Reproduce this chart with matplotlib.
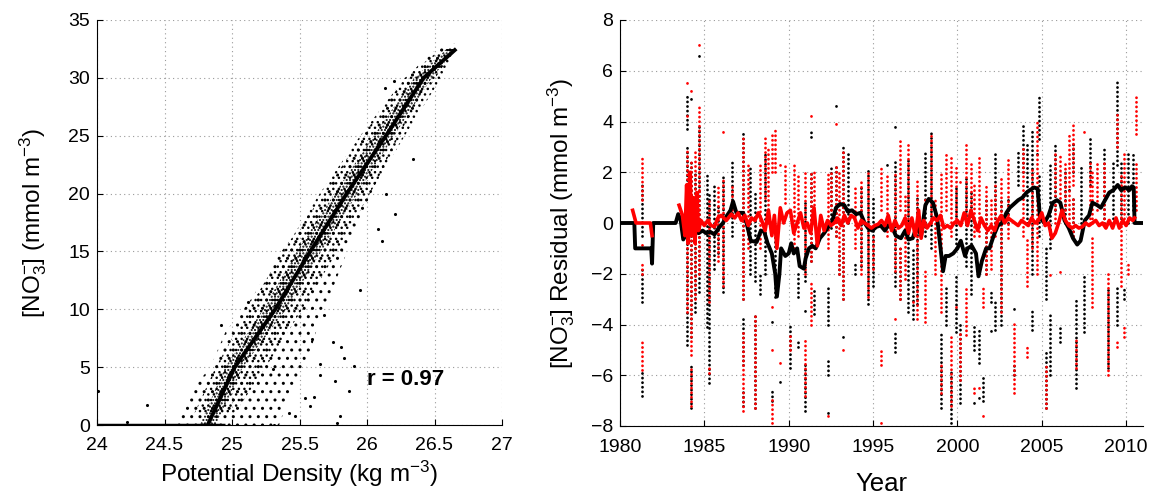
import numpy as np
import matplotlib
matplotlib.use("Agg")
import matplotlib.pyplot as plt

plt.rcParams["font.family"] = ["Liberation Sans", "DejaVu Sans"]
plt.rcParams["mathtext.fontset"] = "custom"
plt.rcParams["mathtext.rm"] = "Liberation Sans"
plt.rcParams["mathtext.it"] = "Liberation Sans:italic"
plt.rcParams["mathtext.bf"] = "Liberation Sans:bold"
plt.rcParams["mathtext.default"] = "rm"
plt.rcParams["hatch.linewidth"] = 1.0

# ---- left panel: nitrate vs potential density ----
FIT_X = [24.82, 25.02, 25.32, 25.58, 25.85, 26.14, 26.42, 26.65]
FIT_Y = [0.0, 5.0, 10.0, 15.0, 20.0, 25.0, 30.0, 32.4]

# envelope of the sparse part of the cloud (x at given nitrate level)
CLOUD_Y = [0, 1, 3, 5, 8, 11, 14, 17, 20, 23, 26, 29, 32, 33]
CLOUD_LEFT = [24.55, 24.62, 24.70, 24.84, 24.95, 25.15, 25.30, 25.50, 25.68, 25.85, 26.03, 26.22, 26.45, 26.62]
CLOUD_RIGHT = [25.35, 25.38, 25.45, 25.55, 25.62, 25.72, 25.82, 25.92, 26.03, 26.15, 26.28, 26.45, 26.62, 26.66]

# envelope of the moderately dense part
MID_Y = [1, 5, 10, 15, 20, 25, 30, 32.5]
MID_LEFT = [24.72, 24.88, 25.12, 25.38, 25.65, 25.95, 26.28, 26.55]
MID_RIGHT = [25.02, 25.25, 25.52, 25.78, 26.02, 26.28, 26.55, 26.66]

# envelope of the dense core
CORE_Y = [0, 5, 10, 15, 20, 25, 30, 32.5]
CORE_LEFT = [24.76, 24.95, 25.23, 25.48, 25.76, 26.05, 26.35, 26.59]
CORE_RIGHT = [24.88, 25.08, 25.40, 25.66, 25.93, 26.20, 26.48, 26.66]

# zero-nitrate samples along the bottom
ZERO_X = [24.0, 24.95]
ZERO_Y = [0.0, 0.0]

# isolated samples outside the cloud
OUT_X = [24.01, 24.37, 24.22, 24.92, 25.12, 26.20, 26.13, 26.34, 26.21, 26.14, 26.08, 26.11,
         25.95, 25.75, 25.81, 25.83, 25.90, 25.87, 25.76, 25.65, 25.65, 25.58, 25.61, 25.80,
         25.78, 25.47, 25.42, 25.54, 25.68, 25.59, 25.31, 25.30]
OUT_Y = [2.9, 1.7, 0.3, 8.6, 10.6, 29.7, 29.1, 23.0, 18.2, 20.0, 16.9, 15.9,
         11.7, 7.2, 6.7, 5.8, 5.1, 2.9, 3.8, 5.3, 4.3, 1.6, 2.4, 0.75,
         0.2, 0.8, 1.0, 2.3, 9.5, 7.4, 0.03, 4.8]

R_TEXT = "r = 0.97"

# ---- right panel: residual time series ----
# vertical columns of samples: (year, low, high)
BLACK_STREAKS = [
    (1981.3, -0.5, 1.5), (1981.3, -3.1, -1.7), (1981.3, -6.8, -5.8),
    (1983.95, -4.8, 3.0), (1983.95, 3.7, 5.1), (1984.2, -4.5, 2.5), (1984.2, -7.3, -5.6),
    (1984.2, 4.9, 5.0), (1984.45, -3.5, 2.0), (1984.7, -2.7, 3.8), (1984.7, 6.6, 6.7),
    (1985.15, -4.1, 2.0), (1985.3, -6.3, 1.2), (1985.55, -1.8, 1.5), (1985.8, -1.2, 0.8),
    (1986.1, -2.7, 1.8), (1986.65, -0.5, 2.5), (1987.3, -3.0, 3.6), (1987.3, -7.2, -6.5),
    (1987.3, -5.6, -3.8), (1987.7, -2.0, 2.3), (1988.0, -2.3, 1.2), (1988.0, -7.3, -3.5),
    (1988.3, -2.8, -2.0), (1988.6, -2.0, 2.7), (1989.0, -7.0, -6.6), (1989.0, -3.9, -3.8),
    (1989.2, -2.9, -0.5), (1989.5, -6.25, -6.15), (1990.1, -5.7, -4.0), (1990.55, -2.9, -2.0),
    (1990.55, -4.9, -4.7), (1990.95, -2.3, 0.9), (1990.95, -3.45, -3.35), (1990.95, -7.4, -5.5),
    (1991.3, 3.4, 3.6), (1991.3, -1.5, 2.0), (1991.5, -3.6, -2.6), (1992.3, -4.0, -2.5),
    (1992.3, -6.0, -5.3), (1992.3, -7.5, -7.4), (1992.5, -0.2, 2.3), (1992.8, 4.6, 4.7),
    (1992.8, -0.5, 2.3), (1993.0, -2.0, -1.0), (1993.2, -3.0, 3.0), (1993.2, -4.5, -4.4),
    (1993.5, 0.0, 2.7), (1993.9, -2.0, -1.5), (1994.3, -1.7, 1.5), (1994.7, -3.2, 2.2),
    (1995.0, -2.5, 1.0), (1995.8, 2.3, 2.4), (1996.3, -2.5, 2.5), (1996.3, 3.8, 3.9),
    (1996.3, -5.1, -4.3), (1996.6, -3.0, -1.0), (1997.1, -3.5, 2.6), (1997.35, -3.8, -1.0),
    (1997.6, -3.2, 1.0), (1998.1, -0.5, 2.9), (1998.45, -1.0, 3.6), (1999.0, -7.3, -4.3),
    (1999.3, -4.0, -2.5), (1999.6, -7.9, -5.7), (1999.9, -4.3, -2.0), (1999.9, -1.0, 1.5),
    (2000.15, -7.1, -3.9), (2000.5, -1.7, 1.8), (2000.8, -2.8, 1.2), (2001.0, -5.0, -4.1),
    (2001.0, -7.1, -7.0), (2001.25, -5.5, -4.2), (2001.25, -6.9, -6.8), (2001.5, -7.0, -6.0),
    (2001.7, -2.0, 1.0), (2002.0, -3.1, -2.6), (2002.0, -4.25, -4.15), (2002.2, 0.0, 2.8),
    (2002.2, -4.2, -3.0), (2002.6, -4.0, 1.0), (2003.0, 0.0, 1.0), (2003.35, -3.4, -3.3),
    (2003.35, -6.0, -5.5), (2003.6, 1.5, 2.9), (2003.9, 2.0, 4.0), (2004.15, 0.0, 3.2),
    (2004.4, -2.0, 3.7), (2004.4, -4.2, -3.4), (2004.7, 2.7, 2.8), (2004.85, 3.3, 5.0),
    (2004.85, -0.5, 2.0), (2005.25, -7.3, -5.0), (2005.25, -3.0, -1.0), (2005.5, -1.0, 2.3),
    (2005.5, -6.0, -3.5), (2005.8, 0.5, 3.2), (2006.1, -4.7, -4.0), (2006.35, 0.0, 2.1),
    (2006.6, 1.3, 1.4), (2006.85, 2.0, 3.1), (2006.85, -0.5, 1.0), (2007.05, -6.5, -3.0),
    (2007.3, 0.0, 2.3), (2007.5, -4.3, -2.0), (2007.85, 1.5, 3.4), (2008.7, 0.0, 2.9),
    (2008.95, -5.7, -2.5), (2009.25, 0.0, 2.5), (2009.45, 2.3, 5.6), (2009.45, -4.0, -2.5),
    (2009.7, 0.0, 2.5), (2009.9, -3.0, -2.5), (2010.1, 0.0, 2.7), (2010.4, 0.5, 2.7),
]
RED_STREAKS = [
    (1981.3, 0.9, 2.6), (1981.3, -2.0, -1.6), (1981.3, -5.8, -4.7), (1981.3, -0.85, -0.75),
    (1983.95, -3.5, 3.0), (1983.95, 4.2, 4.3), (1983.95, 5.5, 5.6), (1984.2, -5.2, 2.5),
    (1984.2, 5.2, 5.3), (1984.2, -7.2, -5.6), (1984.45, -3.0, 2.8), (1984.7, 1.3, 4.7),
    (1984.7, -2.0, 1.3), (1984.7, 7.0, 7.1), (1985.3, -3.1, 1.0), (1985.3, -5.9, -5.7),
    (1985.8, -1.5, 1.5), (1986.1, 3.6, 3.7), (1986.1, -2.5, 1.8), (1986.65, 0.5, 1.5),
    (1987.3, -3.0, 3.5), (1987.3, -7.4, -4.3), (1987.6, -1.0, 2.3), (1988.0, -7.3, -3.5),
    (1988.3, -1.0, 2.4), (1988.6, 1.0, 3.4), (1988.8, 0.0, 3.0), (1989.0, -3.3, -3.2),
    (1989.0, -5.0, -4.9), (1989.0, -7.9, -6.8), (1989.0, 2.0, 3.5), (1989.2, 2.0, 3.8),
    (1989.5, -5.5, -5.4), (1989.5, 2.3, 2.4), (1989.8, 0.8, 2.3), (1990.1, -5.0, -4.3),
    (1990.3, -1.0, 2.4), (1990.55, -0.5, 1.9), (1990.95, -6.8, -4.5), (1990.95, -2.0, 2.0),
    (1991.3, 4.2, 4.3), (1991.3, -1.5, 2.0), (1991.3, -4.0, -2.3), (1991.5, 0.0, 2.0),
    (1992.3, -1.0, 2.0), (1992.3, -7.6, -7.5), (1992.5, 0.5, 2.0), (1992.8, 3.9, 4.0),
    (1992.8, -0.5, 2.3), (1993.0, -2.0, 2.0), (1993.2, -3.0, 2.8), (1993.2, -5.0, -4.9),
    (1993.9, -1.0, 1.5), (1994.3, -2.0, 1.6), (1994.7, -2.9, 2.0), (1995.0, -1.8, -0.5),
    (1995.45, -5.6, -4.9), (1995.45, -7.9, -7.8), (1995.45, 0.5, 2.3), (1995.8, -0.5, 2.0),
    (1996.3, -1.9, 2.0), (1996.3, -3.8, -3.7), (1996.6, 0.5, 3.3), (1996.6, -3.0, -1.0),
    (1996.9, -2.2, 1.2), (1997.1, 0.0, 3.2), (1997.35, -3.1, -3.0), (1997.6, -3.8, 1.8),
    (1998.1, -3.9, -1.8), (1998.1, 0.9, 1.0), (1998.45, 0.0, 3.5), (1998.7, -2.0, 1.0),
    (1999.0, -3.5, 2.0), (1999.0, -6.7, -5.5), (1999.3, 0.5, 2.7), (1999.6, -0.5, 2.6),
    (1999.6, -7.2, -4.4), (1999.9, -3.3, -3.2), (1999.9, 0.0, 2.2), (2000.15, -6.2, -4.2),
    (2000.15, 1.6, 1.7), (2000.5, 0.0, 3.2), (2000.5, -4.4, -2.5), (2000.8, 0.5, 2.5),
    (2001.0, -6.7, -6.5), (2001.0, -0.5, 1.5), (2001.25, -0.5, 2.6), (2001.25, -6.5, -6.4),
    (2001.5, -3.3, -2.5), (2001.5, -7.6, -7.5), (2001.7, -2.0, 1.5), (2002.0, -1.8, 1.0),
    (2002.2, -0.5, 1.5), (2002.6, -3.5, 1.8), (2003.0, -0.6, 2.5), (2003.35, -6.7, -3.9),
    (2003.9, -0.5, 3.0), (2004.15, -2.5, -0.5), (2004.15, -5.3, -4.8), (2004.4, -1.0, 2.2),
    (2004.7, -2.0, 4.0), (2005.25, -7.3, -5.5), (2005.5, -2.05, -1.95), (2005.8, 0.0, 2.7),
    (2006.1, 1.0, 2.7), (2006.1, -1.95, -1.85), (2006.35, 0.5, 2.4), (2006.6, 0.0, 3.6),
    (2006.85, 1.5, 3.9), (2006.85, -0.5, 1.0), (2007.05, -5.7, -4.5), (2007.5, 3.6, 3.7),
    (2007.85, 0.0, 2.5), (2008.0, -3.3, -0.5), (2008.0, 0.0, 2.0), (2008.3, 0.5, 2.5),
    (2008.7, 0.0, 2.5), (2008.95, -6.0, -2.0), (2009.45, 3.0, 4.3), (2009.45, -4.9, -4.7),
    (2009.7, -2.5, 2.0), (2009.9, -4.5, -4.0), (2009.9, 0.0, 2.7), (2010.1, -2.0, -1.5),
    (2010.6, 3.5, 5.0), (2010.6, 0.5, 2.5),
]

# running-mean residual, salinity-free model (black)
BLACK_T = [1980.0, 1980.85, 1980.9, 1981.85, 1981.9, 1981.97, 1983.3, 1983.45, 1983.6, 1983.75,
           1984.0, 1984.2, 1984.4, 1984.65, 1984.9, 1985.1, 1985.35, 1985.6, 1985.85, 1986.1,
           1986.35, 1986.55, 1986.7, 1986.9, 1987.3, 1987.5, 1987.75, 1988.1, 1988.35, 1988.55,
           1988.75, 1989.0, 1989.2, 1989.3, 1989.45, 1989.55, 1989.8, 1990.0, 1990.15, 1990.3,
           1990.5, 1990.65, 1990.9, 1991.0, 1991.2, 1991.4, 1991.6, 1991.85, 1992.1, 1992.3,
           1992.55, 1992.8, 1993.05, 1993.3, 1993.5, 1993.75, 1994.0, 1994.25, 1994.5, 1994.7,
           1994.95, 1995.2, 1995.45, 1995.7, 1995.9, 1996.15, 1996.35, 1996.65, 1996.9, 1997.1,
           1997.35, 1997.6, 1997.85, 1998.1, 1998.3, 1998.55, 1998.8, 1999.05, 1999.15, 1999.3,
           1999.5, 1999.75, 2000.0, 2000.2, 2000.45, 2000.6, 2000.85, 2001.1, 2001.25, 2001.45,
           2001.7, 2001.9, 2002.15, 2002.4, 2002.65, 2002.9, 2003.1, 2003.35, 2003.6, 2003.85,
           2004.1, 2004.3, 2004.55, 2004.75, 2004.9, 2005.15, 2005.4, 2005.65, 2005.9, 2006.1,
           2006.35, 2006.6, 2006.85, 2007.1, 2007.3, 2007.55, 2007.8, 2008.0, 2008.3, 2008.5,
           2008.75, 2009.0, 2009.25, 2009.5, 2009.7, 2009.95, 2010.2, 2010.35, 2010.45, 2010.5,
           2011.0]
BLACK_V = [0.0, 0.0, -1.0, -1.0, -1.6, 0.0, 0.0, 0.35, 0.1, -0.65,
           -0.35, -0.45, -0.3, -0.4, -0.3, -0.4, -0.35, -0.45, -0.2, 0.0,
           0.3, 0.5, 0.85, 0.4, 0.4, 0.0, -0.7, -0.75, -0.3, -0.35,
           -0.8, -1.2, -2.0, -2.9, -2.0, -1.0, -1.3, -1.2, -0.8, -1.2,
           -1.0, -1.7, -1.8, -1.4, -1.0, -0.9, -1.0, -0.6, -0.4, -0.2,
           0.0, 0.6, 0.75, 0.7, 0.45, 0.5, 0.35, 0.4, 0.0, -0.2,
           -0.3, -0.15, -0.1, -0.3, -0.1, -0.2, -0.5, -0.6, -0.3, -0.65,
           -0.6, -0.1, -0.5, 0.7, 0.95, 0.8, 0.2, -1.3, -1.9, -1.3,
           -1.3, -1.2, -1.0, -0.7, -1.3, -1.0, -0.9, -1.2, -2.1, -1.5,
           -1.0, -1.0, -0.5, -0.1, 0.0, 0.4, 0.6, 0.75, 0.9, 1.0,
           1.2, 1.3, 1.4, 1.35, 0.2, 0.0, 0.3, 0.8, 0.9, 0.8,
           0.1, -0.2, -0.6, -0.85, -0.7, 0.1, 0.3, 0.8, 0.7, 0.6,
           0.9, 1.2, 1.3, 1.5, 1.3, 1.4, 1.3, 1.45, 1.4, 0.0,
           0.0]

# running-mean residual, model with salinity (red); nan = no data
RED_T = [1980.75, 1980.95, 1981.8, 1981.9, 1982.0,
         1983.5, 1983.7, 1983.85, 1983.95, 1984.05, 1984.15, 1984.25, 1984.35, 1984.45, 1984.55,
         1984.65, 1984.8, 1985.0, 1985.2, 1985.4, 1985.6, 1985.8, 1986.0, 1986.3, 1986.6,
         1986.8, 1987.0, 1987.2, 1987.4, 1987.6, 1987.8, 1988.0, 1988.2, 1988.4, 1988.6,
         1988.8, 1989.0, 1989.15, 1989.3, 1989.5, 1989.7, 1989.9, 1990.1, 1990.3, 1990.5,
         1990.7, 1990.9, 1991.1, 1991.3, 1991.5, 1991.7, 1991.9, 1992.1, 1992.3, 1992.5,
         1992.7, 1992.9, 1993.1, 1993.3, 1993.5, 1993.7, 1993.9, 1994.1, 1994.3, 1994.5,
         1994.7, 1994.9, 1995.1, 1995.3, 1995.5, 1995.7, 1995.9, 1996.1, 1996.3, 1996.5,
         1996.7, 1996.9, 1997.1, 1997.3, 1997.5, 1997.7, 1997.85, 1998.0, 1998.2, 1998.4,
         1998.6, 1998.8, 1999.0, 1999.2, 1999.4, 1999.6, 1999.8, 2000.0, 2000.2, 2000.4,
         2000.6, 2000.8, 2001.0, 2001.2, 2001.4, 2001.6, 2001.8, 2002.0, 2002.2, 2002.4,
         2002.6, 2002.8, 2003.0, 2003.2, 2003.4, 2003.6, 2003.8, 2004.0, 2004.2, 2004.4,
         2004.6, 2004.8, 2005.0, 2005.2, 2005.4, 2005.6, 2005.8, 2006.0, 2006.2, 2006.4,
         2006.6, 2006.8, 2007.0, 2007.2, 2007.4, 2007.6, 2007.8, 2008.0, 2008.2, 2008.4,
         2008.6, 2008.8, 2009.0, 2009.2, 2009.4, 2009.6, 2009.8, 2010.0, 2010.2, 2010.4,
         2010.5]
RED_V = [0.5, 0.0, 0.0, -0.5, np.nan,
         0.7, 0.3, -0.5, 1.5, -0.8, 2.0, -0.5, 1.0, -0.8, 1.2,
         -0.3, 0.1, -0.1, 0.1, -0.1, -0.15, 0.2, 0.3, 0.1, 0.35,
         0.2, 0.4, 0.1, 0.3, -0.1, 0.2, 0.1, 0.4, 0.1, -0.3,
         0.5, -0.5, 0.3, -1.0, 0.6, 0.0, 0.4, 0.5, -0.4, 0.0,
         0.4, -0.2, 0.0, -0.4, 0.6, -0.9, 0.3, -0.3, 0.1, -0.1,
         0.0, 0.2, -0.1, 0.3, 0.0, 0.3, 0.2, -0.2, 0.1, 0.0,
         -0.1, -0.2, -0.1, -0.05, 0.1, -0.1, 0.3, -0.3, 0.1, -0.2,
         -0.1, 0.2, -0.4, 0.2, -0.5, 0.5, -0.6, 0.1, -0.2, 0.0,
         0.2, 0.1, 0.3, -0.2, -0.1, -0.2, 0.0, 0.1, -0.1, 0.4,
         -0.1, 0.5, 0.1, -0.3, 0.2, -0.1, -0.3, -0.1, -0.3, 0.1,
         0.3, 0.0, 0.2, 0.1, 0.0, -0.1, 0.1, 0.0, -0.1, 0.2,
         0.0, 0.1, 0.4, -0.1, 0.0, -0.6, -0.4, 0.0, 0.5, 0.1,
         -0.1, -0.2, -0.1, -0.2, -0.15, 0.0, -0.1, 0.0, 0.1, -0.1,
         0.0, -0.2, 0.1, -0.2, 0.2, -0.2, 0.1, -0.1, 0.2, 0.1,
         0.2]

TICK_FS = 14
LABEL_FS = 17.5
GRID_KW = dict(color="#9a9a9a", linestyle=(0, (1, 3)), linewidth=0.8)
DOTS = (0, (0.05, 1.6))


def style(ax):
    ax.spines["top"].set_visible(False)
    ax.spines["right"].set_visible(False)
    ax.tick_params(direction="in", length=4, labelsize=TICK_FS, top=False, right=False)
    ax.tick_params(axis="x", pad=9)
    ax.tick_params(axis="y", pad=5)
    ax.grid(True, **GRID_KW)
    ax.set_axisbelow(True)


fig = plt.figure(figsize=(11.54, 4.95), dpi=100)

# (a) scatter
ax = fig.add_axes([97 / 1154, 70 / 495, 405 / 1154, 405 / 495])
for ys, lft, rgt, hatch in ((CLOUD_Y, CLOUD_LEFT, CLOUD_RIGHT, ".."),
                            (MID_Y, MID_LEFT, MID_RIGHT, "..."),
                            (CORE_Y, CORE_LEFT, CORE_RIGHT, ".....")):
    ax.fill_betweenx(ys, lft, rgt, facecolor="none", edgecolor="black", hatch=hatch, linewidth=0)
ax.plot(ZERO_X, ZERO_Y, color="black", lw=2.5, solid_capstyle="butt")
ax.scatter(OUT_X, OUT_Y, s=5, color="black", linewidths=0)
ax.plot(FIT_X, FIT_Y, color="black", lw=2.8)
ax.text(26.0, 3.9, R_TEXT, fontsize=16, fontweight="bold", va="center", ha="left")
ax.set_xlim(24, 27)
ax.set_ylim(0, 35)
ax.set_xticks(np.arange(24, 27.01, 0.5))
ax.set_xticklabels(["24", "24.5", "25", "25.5", "26", "26.5", "27"])
ax.set_yticks(np.arange(0, 36, 5))
style(ax)
ax.set_xlabel("Potential Density (kg m$^{-3}$)", fontsize=LABEL_FS, labelpad=3)
ax.set_ylabel("[NO$_3^{-}$] (mmol m$^{-3}$)", fontsize=LABEL_FS, labelpad=14)

# (b) residual time series
ax = fig.add_axes([620 / 1154, 69 / 495, 523 / 1154, 406 / 495])
for streaks, col in ((BLACK_STREAKS, "black"), (RED_STREAKS, "red")):
    yr, lo, hi = zip(*streaks)
    ax.vlines(yr, lo, hi, colors=col, linewidth=2.0, linestyles=[DOTS], capstyle="round")
ax.plot(BLACK_T, BLACK_V, color="black", lw=2.8)
ax.plot(RED_T, RED_V, color="red", lw=2.6)
ax.set_xlim(1980, 2011)
ax.set_ylim(-8, 8)
ax.set_xticks(np.arange(1980, 2011, 5))
ax.set_yticks(np.arange(-8, 9, 2))
style(ax)
ax.set_xlabel("Year", fontsize=LABEL_FS + 1, labelpad=12)
ax.set_ylabel("[NO$_3^{-}$] Residual (mmol m$^{-3}$)", fontsize=LABEL_FS, labelpad=10)

fig.savefig("out.png", dpi=100, facecolor="white")
